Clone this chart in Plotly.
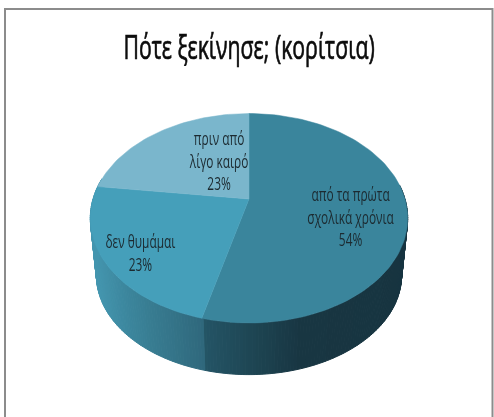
import math
import plotly.graph_objects as go

# --- data ---
categories = ["από τα πρώτα<br>σχολικά χρόνια", "δεν θυμάμαι", "πριν από<br>λίγο καιρό"]
values = [54, 23, 23]
title_text = "Πότε ξεκίνησε; (κορίτσια)"

# --- style ---
top_colors = ["#3a859c", "#459fba", "#7ab6cc"]
label_xy = [(350, 217), (140, 252), (218, 161)]
W, H = 494, 417
CX, K = 249, 0.1837
TOP = dict(y0=199, R=156, B=101.2)
BOT = dict(y0=257, R=150, B=96)
side_stops = [(96, (68, 150, 175)), (125, (60, 135, 158)), (150, (56, 125, 146)),
              (203, (47, 104, 124)), (204, (36, 85, 102)), (250, (30, 70, 84)),
              (300, (24, 54, 66)), (406, (23, 52, 64))]


def project(theta, g):
    u, v = math.sin(theta), -math.cos(theta)
    s = 1 / (1 - K * v)
    return CX + g["R"] * u * s, g["y0"] + g["B"] * v * s


def side_colour(x):
    for (a, ca), (b, cb) in zip(side_stops, side_stops[1:]):
        if x <= b:
            t = max(0, (x - a) / (b - a))
            c = [round(p + (q - p) * t) for p, q in zip(ca, cb)]
            return f"rgb({c[0]},{c[1]},{c[2]})"
    return "rgb(%d,%d,%d)" % side_stops[-1][1]


total = sum(values)
fig = go.Figure()

# side wall: narrow quads along the front of the pie
n = 200
a0, a1 = math.radians(82), math.radians(282)
for i in range(n):
    t0 = a0 + (a1 - a0) * i / n
    t1 = a0 + (a1 - a0) * (i + 1) / n
    p = [project(t0, TOP), project(t1, TOP), project(t1, BOT), project(t0, BOT)]
    col = side_colour(sum(q[0] for q in p) / 4)
    fig.add_trace(go.Scatter(
        x=[q[0] for q in p] + [p[0][0]], y=[q[1] for q in p] + [p[0][1]],
        mode="lines", fill="toself", fillcolor=col, line=dict(color=col, width=1),
        hoverinfo="skip", showlegend=False))

# top face sectors, sized from the values
cum = 0
for name, val, col in zip(categories, values, top_colors):
    start = cum / total * 2 * math.pi
    cum += val
    end = cum / total * 2 * math.pi
    steps = max(2, int(val * 2))
    pts = [project(start + (end - start) * j / steps, TOP) for j in range(steps + 1)]
    xs = [CX] + [q[0] for q in pts] + [CX]
    ys = [TOP["y0"]] + [q[1] for q in pts] + [TOP["y0"]]
    fig.add_trace(go.Scatter(x=xs, y=ys, mode="lines", fill="toself", fillcolor=col,
                             line=dict(color=col, width=0.5), name=name.replace("<br>", " "),
                             hoverinfo="name+text", text=f"{val}%", showlegend=False))

for name, val, (lx, ly) in zip(categories, values, label_xy):
    fig.add_annotation(x=lx, y=ly, text=f"{name}<br>{val}%", showarrow=False,
                       font=dict(family="Open Sans", size=17.5, color="#1c2a30"),
                       align="center")

fig.add_shape(type="rect", x0=5, y0=9, x1=492.5, y1=H + 10,
              line=dict(color="#8c8c8c", width=2), fillcolor="rgba(0,0,0,0)")
fig.add_annotation(x=248.5, y=46, text=title_text, showarrow=False,
                   font=dict(family="Open Sans", size=32, color="#0c0c0c"))

fig.update_layout(width=W, height=H, margin=dict(l=0, r=0, t=0, b=0),
                  paper_bgcolor="white", plot_bgcolor="white", showlegend=False,
                  xaxis=dict(range=[0, W], visible=False, fixedrange=True),
                  yaxis=dict(range=[H, 0], visible=False, fixedrange=True))
# narrow the annotation glyphs horizontally, as no condensed face is installed
post = """
document.body.style.margin='0';document.body.style.overflow='hidden';
document.querySelectorAll('.annotation-text').forEach(function(t){
  var x=parseFloat(t.getAttribute('x'));
  var big=parseFloat(t.style.fontSize)>25;
  var sx=big?0.665:0.68;
  t.setAttribute('transform','translate('+x+' 0) scale('+sx+' 1) translate('+(-x)+' 0)');
  if(big){t.style.stroke='#0c0c0c';t.style.strokeWidth='0.7px';}
  t.style.filter='blur(0.35px)';
});
"""
fig.write_html("out.html", config={"displayModeBar": False}, post_script=post)
